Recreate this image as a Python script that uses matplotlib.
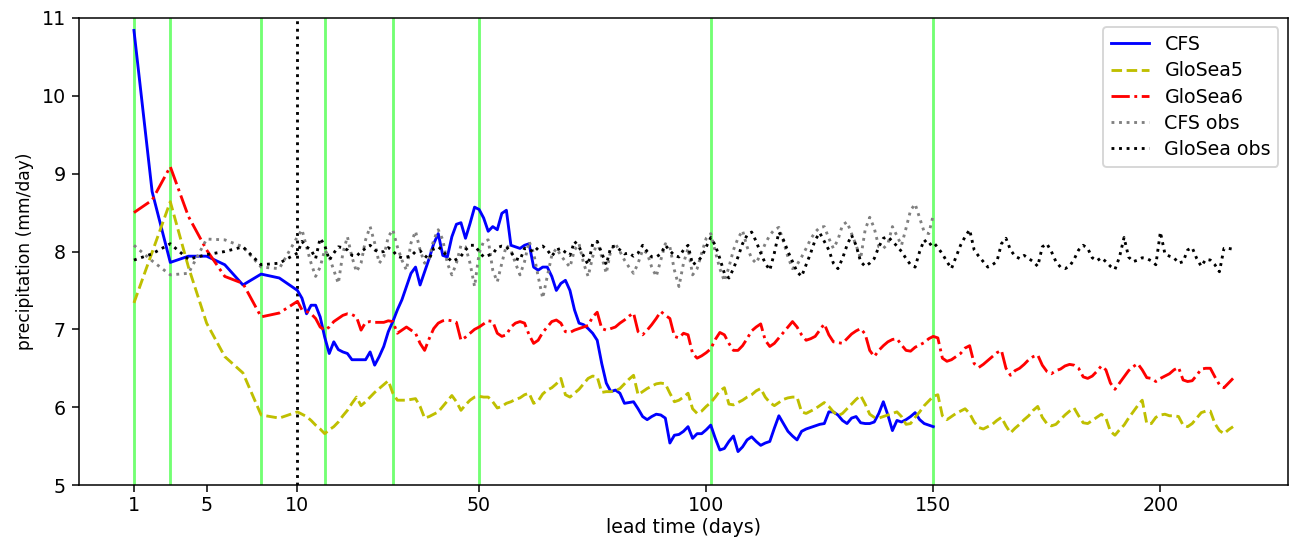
import numpy as np
import matplotlib
matplotlib.use("Agg")
import matplotlib.pyplot as plt

# daily means (mm/day), lead days 1..N
cfs = [
    10.84, 8.77, 7.86, 7.94, 7.94, 7.83, 7.57, 7.71, 7.66, 7.50,
    7.40, 7.20, 7.31, 7.31, 7.16, 6.90, 6.69, 6.84, 6.74, 6.71,
    6.69, 6.61, 6.61, 6.61, 6.61, 6.71, 6.54, 6.65, 6.78, 6.97,
    7.10, 7.25, 7.38, 7.55, 7.72, 7.80, 7.57, 7.74, 7.91, 8.10,
    8.23, 7.95, 7.93, 8.19, 8.35, 8.37, 8.17, 8.36, 8.57, 8.54,
    8.43, 8.26, 8.32, 8.28, 8.49, 8.53, 8.08, 8.06, 8.04, 8.08,
    8.10, 7.80, 7.76, 7.80, 7.80, 7.68, 7.50, 7.59, 7.63, 7.50,
    7.25, 7.08, 7.06, 7.01, 6.95, 6.86, 6.56, 6.31, 6.20, 6.22,
    6.18, 6.05, 6.06, 6.07, 5.98, 5.88, 5.84, 5.88, 5.91, 5.90,
    5.86, 5.54, 5.64, 5.65, 5.69, 5.75, 5.60, 5.66, 5.66, 5.71,
    5.77, 5.60, 5.45, 5.47, 5.56, 5.63, 5.43, 5.49, 5.58, 5.62,
    5.56, 5.51, 5.54, 5.56, 5.73, 5.89, 5.79, 5.69, 5.63, 5.58,
    5.69, 5.72, 5.74, 5.76, 5.78, 5.79, 5.94, 5.94, 5.90, 5.83,
    5.79, 5.86, 5.88, 5.80, 5.79, 5.79, 5.81, 5.92, 6.07, 5.90,
    5.70, 5.83, 5.81, 5.84, 5.88, 5.93, 5.84, 5.79, 5.77, 5.75,
]

glosea5 = [
    7.34, 7.99, 8.64, 7.80, 7.08, 6.65, 6.44, 5.90, 5.86, 5.94,
    5.91, 5.88, 5.83, 5.77, 5.72, 5.66, 5.71, 5.75, 5.81, 5.89,
    5.96, 6.05, 6.13, 6.02, 6.07, 6.13, 6.19, 6.24, 6.29, 6.34,
    6.18, 6.09, 6.09, 6.09, 6.10, 6.11, 6.01, 5.86, 5.88, 5.91,
    5.94, 6.01, 6.08, 6.15, 6.07, 5.96, 6.03, 6.09, 6.13, 6.14,
    6.13, 6.13, 6.07, 5.99, 6.01, 6.05, 6.07, 6.10, 6.12, 6.16,
    6.18, 6.05, 6.08, 6.17, 6.22, 6.25, 6.30, 6.37, 6.16, 6.13,
    6.18, 6.23, 6.30, 6.37, 6.40, 6.39, 6.19, 6.20, 6.20, 6.21,
    6.24, 6.30, 6.36, 6.41, 6.16, 6.20, 6.24, 6.27, 6.30, 6.31,
    6.30, 6.18, 6.07, 6.09, 6.13, 6.18, 5.98, 5.92, 5.95, 6.01,
    6.06, 6.13, 6.21, 6.25, 6.04, 6.03, 6.06, 6.09, 6.13, 6.16,
    6.21, 6.24, 6.13, 6.06, 6.02, 6.06, 6.10, 6.12, 6.13, 6.13,
    5.94, 5.92, 5.95, 5.98, 6.02, 6.06, 6.01, 5.94, 5.89, 5.92,
    5.98, 6.04, 6.10, 6.15, 6.04, 5.91, 5.87, 5.86, 5.88, 5.90,
    5.92, 5.94, 5.88, 5.78, 5.79, 5.87, 5.94, 6.02, 6.08, 6.14,
    6.16, 5.89, 5.84, 5.88, 5.92, 5.95, 5.98, 5.92, 5.81, 5.74,
    5.72, 5.75, 5.78, 5.83, 5.87, 5.76, 5.67, 5.73, 5.78, 5.84,
    5.89, 5.96, 6.01, 5.87, 5.79, 5.76, 5.78, 5.84, 5.90, 5.95,
    5.99, 5.89, 5.80, 5.79, 5.83, 5.87, 5.91, 5.86, 5.69, 5.64,
    5.71, 5.77, 5.86, 5.94, 6.02, 6.09, 5.79, 5.79, 5.87, 5.90,
    5.91, 5.89, 5.89, 5.88, 5.77, 5.75, 5.79, 5.86, 5.93, 5.95,
    5.95, 5.79, 5.70, 5.66, 5.71, 5.75,
]

glosea6 = [
    8.50, 8.66, 9.09, 8.45, 8.02, 7.68, 7.59, 7.16, 7.21, 7.36,
    7.25, 7.23, 7.20, 7.14, 7.03, 6.99, 7.03, 7.10, 7.14, 7.18,
    7.20, 7.19, 7.16, 6.99, 7.09, 7.10, 7.09, 7.09, 7.09, 7.11,
    7.10, 6.95, 6.99, 7.03, 6.99, 6.95, 6.82, 6.73, 6.88, 7.01,
    7.08, 7.11, 7.12, 7.11, 7.09, 6.86, 6.90, 6.95, 7.00, 7.03,
    7.07, 7.11, 7.10, 6.95, 6.91, 6.93, 7.03, 7.08, 7.10, 7.08,
    6.93, 6.82, 6.86, 6.96, 7.03, 7.10, 7.12, 7.08, 6.97, 6.96,
    6.99, 7.01, 7.03, 7.05, 7.16, 7.22, 7.01, 6.99, 7.01, 7.03,
    7.08, 7.12, 7.17, 7.21, 6.97, 6.93, 6.99, 7.06, 7.14, 7.23,
    7.18, 7.14, 6.91, 6.89, 6.95, 6.93, 6.69, 6.63, 6.66, 6.70,
    6.75, 6.87, 6.96, 6.93, 6.82, 6.73, 6.73, 6.79, 6.88, 6.98,
    7.03, 7.07, 6.86, 6.78, 6.82, 6.89, 6.96, 7.03, 7.10, 7.03,
    6.93, 6.86, 6.88, 6.91, 6.99, 7.07, 6.93, 6.84, 6.83, 6.82,
    6.88, 6.94, 6.98, 7.01, 6.94, 6.73, 6.65, 6.73, 6.79, 6.84,
    6.87, 6.88, 6.80, 6.73, 6.72, 6.77, 6.80, 6.83, 6.88, 6.91,
    6.89, 6.63, 6.59, 6.61, 6.65, 6.69, 6.76, 6.79, 6.56, 6.51,
    6.55, 6.60, 6.65, 6.70, 6.73, 6.50, 6.41, 6.47, 6.50, 6.55,
    6.61, 6.65, 6.67, 6.54, 6.46, 6.43, 6.47, 6.49, 6.53, 6.55,
    6.54, 6.50, 6.39, 6.37, 6.40, 6.46, 6.53, 6.48, 6.31, 6.23,
    6.31, 6.39, 6.47, 6.52, 6.56, 6.48, 6.38, 6.37, 6.33, 6.37,
    6.40, 6.43, 6.48, 6.51, 6.35, 6.33, 6.34, 6.41, 6.49, 6.50,
    6.50, 6.39, 6.29, 6.25, 6.31, 6.37,
]

cfs_obs = [
    8.08, 7.88, 7.70, 7.72, 8.16, 8.15, 8.06, 7.80, 7.78, 8.19,
    8.28, 8.06, 7.85, 7.68, 7.80, 8.02, 7.93, 7.76, 7.59, 7.98,
    8.19, 7.93, 7.74, 7.85, 8.15, 8.32, 8.11, 7.85, 7.93, 8.19,
    8.28, 8.06, 7.89, 7.76, 8.11, 8.26, 8.02, 7.85, 7.91, 8.15,
    8.28, 8.15, 7.85, 7.70, 7.85, 8.08, 8.06, 7.85, 7.55, 7.98,
    8.13, 8.15, 7.76, 7.61, 7.85, 8.08, 8.02, 7.85, 7.70, 7.87,
    8.13, 7.98, 7.68, 7.40, 7.68, 7.95, 8.04, 7.95, 7.87, 7.80,
    8.02, 8.10, 7.85, 7.68, 7.93, 8.13, 7.93, 7.72, 8.02, 8.10,
    8.00, 7.89, 7.80, 7.72, 7.85, 8.02, 7.98, 7.80, 7.68, 7.89,
    8.10, 8.06, 7.76, 7.55, 7.85, 8.04, 7.70, 7.78, 7.98, 8.17,
    8.23, 8.00, 7.78, 7.62, 7.80, 8.02, 8.17, 8.27, 8.06, 7.91,
    7.85, 7.97, 8.10, 8.21, 8.28, 8.31, 8.13, 7.93, 7.78, 7.83,
    7.93, 8.04, 8.16, 8.25, 8.31, 8.32, 8.17, 8.04, 8.15, 8.34,
    8.38, 8.23, 8.08, 7.91, 8.28, 8.44, 8.30, 8.06, 8.04, 8.10,
    8.32, 8.20, 8.08, 8.30, 8.53, 8.61, 8.43, 8.25, 8.23, 8.47,
]

glosea_obs = [
    7.89, 7.97, 8.10, 7.90, 7.96, 8.00, 8.06, 7.83, 7.85, 7.98,
    8.13, 8.06, 8.02, 7.91, 8.17, 8.08, 7.89, 7.98, 8.06, 8.05,
    8.02, 7.95, 7.94, 8.00, 8.04, 8.08, 8.02, 7.99, 8.00, 8.05,
    8.01, 7.94, 7.92, 7.93, 7.94, 8.00, 8.01, 7.95, 7.90, 8.04,
    8.06, 8.01, 7.93, 7.87, 7.90, 7.94, 8.02, 8.08, 8.08, 8.00,
    7.93, 7.95, 7.97, 8.05, 8.07, 8.06, 7.99, 7.91, 7.89, 8.04,
    8.03, 7.99, 8.05, 8.07, 8.02, 7.94, 8.02, 8.04, 7.99, 7.95,
    8.13, 8.06, 7.94, 7.83, 8.10, 8.13, 7.98, 7.83, 8.06, 8.07,
    8.02, 7.97, 7.98, 7.94, 7.98, 8.08, 8.00, 7.93, 7.93, 7.97,
    8.08, 8.01, 7.95, 7.93, 8.02, 8.08, 7.83, 7.87, 7.93, 8.06,
    8.18, 8.08, 7.91, 7.72, 7.66, 7.78, 7.93, 8.10, 8.21, 8.25,
    8.13, 7.98, 7.85, 7.76, 7.98, 8.25, 8.15, 8.00, 7.87, 7.74,
    7.68, 7.83, 7.98, 8.15, 8.24, 8.13, 8.02, 7.85, 7.78, 7.91,
    8.08, 8.21, 8.08, 7.87, 7.81, 7.85, 7.91, 8.06, 8.17, 8.19,
    8.13, 8.07, 8.00, 7.91, 7.83, 7.80, 8.00, 8.15, 8.08, 8.12,
    8.05, 7.97, 7.87, 7.78, 7.93, 8.08, 8.19, 8.28, 8.02, 7.94,
    7.87, 7.80, 7.83, 7.87, 8.10, 8.17, 8.02, 7.94, 7.91, 7.95,
    7.91, 7.87, 7.81, 8.06, 8.10, 8.00, 7.87, 7.80, 7.78, 7.81,
    7.90, 8.02, 8.08, 8.04, 7.92, 7.88, 7.92, 7.87, 7.81, 7.77,
    7.93, 8.18, 7.93, 7.87, 7.89, 7.92, 7.91, 7.88, 7.83, 8.25,
    7.97, 7.94, 7.92, 7.85, 7.87, 8.02, 8.05, 7.91, 7.81, 7.90,
    7.89, 7.83, 7.74, 8.04, 8.04, 8.03,
]

tick_days = [1, 5, 10, 50, 100, 150, 200]
green_days = [1, 3, 8, 16, 31, 50, 101, 150]
split_day = 10


def day_to_pos(days):
    """first 10 days are stretched (4 units per day), daily after that"""
    d = np.asarray(days, dtype=float)
    return np.where(d <= split_day, 4 * (d - 1), d + 26)


def main():
    dpi = 137
    fig = plt.figure(figsize=(1295 / dpi, 545 / dpi), dpi=dpi)
    ax = fig.add_axes([0.061, 0.110, 0.9336, 0.857])

    for d in green_days:
        ax.axvline(day_to_pos(d), color='lime', alpha=0.55, lw=1.5)
    ax.axvline(day_to_pos(split_day), color='k', ls=':', lw=1.5)

    def x_of(series):
        return day_to_pos(np.arange(1, len(series) + 1))

    ax.plot(x_of(cfs), cfs, 'b-', lw=1.5, label='CFS')
    ax.plot(x_of(glosea5), glosea5, 'y--', lw=1.5, label='GloSea5')
    ax.plot(x_of(glosea6), glosea6, 'r-.', lw=1.5, label='GloSea6')
    ax.plot(x_of(cfs_obs), cfs_obs, ':', color='grey', lw=1.5, label='CFS obs')
    ax.plot(x_of(glosea_obs), glosea_obs, 'k:', lw=1.5, label='GloSea obs')

    ax.set_xticks(day_to_pos(tick_days))
    ax.set_xticklabels([str(d) for d in tick_days])
    last = day_to_pos(len(glosea5))
    ax.set_xlim(-0.05 * last, 1.05 * last)
    ax.set_ylim(5, 11)
    ax.tick_params(axis='x', pad=2.5)
    ax.set_xlabel('lead time (days)', labelpad=1.5)
    ax.set_ylabel('precipitation (mm/day)', fontsize=9)
    ax.legend(loc='upper right', labelspacing=0.38)

    fig.savefig('out.png', dpi=dpi)


if __name__ == "__main__":
    main()
